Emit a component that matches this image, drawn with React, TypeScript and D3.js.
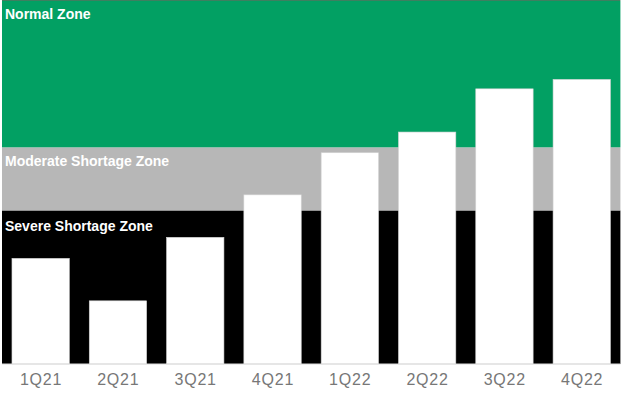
import React from "react";
import * as d3 from "d3";

const categories = ["1Q21", "2Q21", "3Q21", "4Q21", "1Q22", "2Q22", "3Q22", "4Q22"];
const values = [29.1, 17.4, 34.9, 46.6, 58.2, 63.9, 75.8, 78.4];
const zoneNames = ["Severe Shortage Zone", "Moderate Shortage Zone", "Normal Zone"];
const zoneFrom = [0, 42.3, 59.7];
const zoneTo = [42.3, 59.7, 100];
const zoneColors = ["#000000", "#b7b7b7", "#02a063"];
const zoneLabelOffset = [20.7, 19, 17.5];

const W = 623;
const H = 398;

export default function App() {
  const x = d3
    .scaleBand<string>()
    .domain(categories)
    .range([2, 620.4])
    .paddingInner(0.258)
    .paddingOuter(0.129);
  const y = d3.scaleLinear().domain([0, 100]).range([364, 1]);
  const font = "'Liberation Sans', Arial, sans-serif";

  return (
    <svg
      width={W}
      height={H}
      style={{ position: "fixed", left: 0, top: 0, background: "#ffffff" }}
    >
      <line x1={2} x2={620.4} y1={0.5} y2={0.5} stroke="#3f7f60" strokeWidth={1} />
      {zoneNames.map((n, i) => (
        <rect
          key={n}
          x={2}
          width={618.4}
          y={y(zoneTo[i])}
          height={y(zoneFrom[i]) - y(zoneTo[i])}
          fill={zoneColors[i]}
        />
      ))}
      {zoneNames.map((n, i) => (
        <text
          key={"t" + n}
          x={5}
          y={y(zoneTo[i]) + zoneLabelOffset[i]}
          fill="#ffffff"
          fontFamily={font}
          fontWeight="bold"
          fontSize={14}
        >
          {n}
        </text>
      ))}
      {categories.map((c, i) => (
        <rect
          key={c}
          x={x(c)}
          width={x.bandwidth()}
          y={y(values[i])}
          height={y(0) - y(values[i])}
          fill="#ffffff"
          stroke="#d4d4d4"
          strokeWidth={0.6}
        />
      ))}
      <line x1={2} x2={620.4} y1={364} y2={364} stroke="#d9d9d9" strokeWidth={1.2} />
      {categories.map((c) => (
        <text
          key={"l" + c}
          x={(x(c) as number) + x.bandwidth() / 2 + 0.4}
          y={385}
          textAnchor="middle"
          fill="#777777"
          fontFamily={font}
          fontSize={16}
          letterSpacing={0.8}
        >
          {c}
        </text>
      ))}
    </svg>
  );
}
